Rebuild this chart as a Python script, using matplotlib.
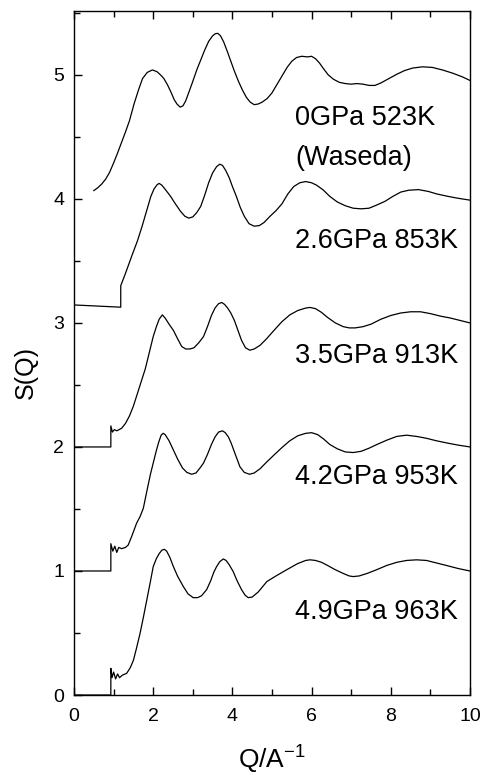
import matplotlib
matplotlib.use("Agg")
import matplotlib.pyplot as plt
from matplotlib.ticker import MultipleLocator

plt.rcParams["font.family"] = ["Liberation Sans", "DejaVu Sans"]
plt.rcParams["mathtext.fontset"] = "custom"
plt.rcParams["mathtext.rm"] = "Liberation Sans"
plt.rcParams["mathtext.it"] = "Liberation Sans:italic"
plt.rcParams["mathtext.bf"] = "Liberation Sans:bold"

# S(Q) curves (unshifted) and the vertical offsets used for stacking
labels = ["0GPa 523K\n(Waseda)", "2.6GPa 853K", "3.5GPa 913K", "4.2GPa 953K", "4.9GPa 963K"]
offsets = [4, 3, 2, 1, 0]

q_0gpa = [0.5, 0.6, 0.7, 0.8, 0.9, 1.0, 1.1, 1.2, 1.3, 1.4, 1.52, 1.63, 1.73, 1.85, 1.98,
          2.1, 2.2, 2.27, 2.36, 2.45, 2.53, 2.6, 2.68, 2.75, 2.82, 2.9, 2.98, 3.1, 3.2,
          3.3, 3.4, 3.5, 3.57, 3.63, 3.7, 3.78, 3.87, 3.96, 4.05, 4.15, 4.25, 4.35, 4.45,
          4.55, 4.65, 4.75, 4.88, 5.0, 5.12, 5.25, 5.38, 5.5, 5.62, 5.75, 5.9, 6.0, 6.1,
          6.2, 6.3, 6.42, 6.55, 6.7, 6.85, 7.0, 7.14, 7.3, 7.45, 7.6, 7.75, 7.95, 8.15,
          8.35, 8.55, 8.8, 9.05, 9.3, 9.55, 9.8, 10.0]
s_0gpa = [0.067, 0.09, 0.12, 0.16, 0.215, 0.29, 0.37, 0.455, 0.54, 0.63, 0.77, 0.88, 0.97, 1.02, 1.04,
          1.025, 0.995, 0.97, 0.92, 0.86, 0.80, 0.765, 0.74, 0.75, 0.79, 0.86, 0.93, 1.04, 1.12,
          1.20, 1.27, 1.315, 1.332, 1.335, 1.315, 1.265, 1.19, 1.11, 1.03, 0.95, 0.88, 0.82, 0.78,
          0.76, 0.765, 0.78, 0.81, 0.855, 0.92, 0.99, 1.06, 1.11, 1.14, 1.15, 1.145, 1.15, 1.13,
          1.095, 1.05, 1.0, 0.965, 0.94, 0.93, 0.925, 0.93, 0.925, 0.915, 0.915, 0.935, 0.97, 1.005,
          1.035, 1.055, 1.065, 1.06, 1.04, 1.015, 0.985, 0.955]

q_26gpa = [0, 1.18, 1.18, 1.3, 1.47, 1.6, 1.72, 1.83, 1.94, 2.02, 2.1, 2.15, 2.22, 2.32,
           2.44, 2.56, 2.69, 2.8, 2.9, 3.0, 3.1, 3.2, 3.3, 3.4, 3.5, 3.6, 3.68, 3.75,
           3.83, 3.92, 4.0, 4.1, 4.2, 4.3, 4.42, 4.55, 4.68, 4.8, 4.95, 5.1, 5.25, 5.4,
           5.55, 5.7, 5.85, 6.0, 6.13, 6.3, 6.46, 6.65, 6.85, 7.05, 7.25, 7.45, 7.64, 7.85,
           8.05, 8.25, 8.45, 8.7, 8.95, 9.16, 9.45, 9.7, 10.0]
s_26gpa = [0.145, 0.127, 0.30, 0.40, 0.55, 0.66, 0.78, 0.90, 1.02, 1.08, 1.115, 1.125, 1.11, 1.07,
           1.02, 0.96, 0.90, 0.86, 0.845, 0.855, 0.89, 0.94, 1.03, 1.13, 1.21, 1.26, 1.28, 1.27,
           1.23, 1.17, 1.10, 1.02, 0.93, 0.86, 0.80, 0.78, 0.785, 0.81, 0.86, 0.905, 0.96, 1.04,
           1.10, 1.13, 1.14, 1.13, 1.11, 1.07, 1.02, 0.975, 0.945, 0.925, 0.92, 0.925, 0.95, 0.98,
           1.02, 1.055, 1.07, 1.075, 1.06, 1.04, 1.02, 1.005, 0.99]

q_35gpa = [0, 0.93, 0.93, 0.97, 1.02, 1.08, 1.2, 1.3, 1.4, 1.5, 1.6, 1.7, 1.8, 1.9, 2.0,
           2.08, 2.15, 2.23, 2.3, 2.4, 2.51, 2.62, 2.72, 2.82, 2.93, 3.03, 3.15, 3.27, 3.37,
           3.47, 3.56, 3.65, 3.73, 3.8, 3.88, 3.96, 4.05, 4.14, 4.23, 4.33, 4.44, 4.55, 4.7,
           4.87, 5.05, 5.25, 5.45, 5.65, 5.85, 5.96, 6.1, 6.25, 6.4, 6.6, 6.8, 6.95, 7.1,
           7.3, 7.5, 7.75, 8.0, 8.25, 8.5, 8.75, 9.0, 9.25, 9.5, 9.75, 10.0]
s_35gpa = [0.0, 0.0, 0.17, 0.12, 0.14, 0.13, 0.15, 0.19, 0.25, 0.33, 0.43, 0.53, 0.63, 0.76, 0.89,
           0.97, 1.03, 1.065, 1.04, 0.99, 0.94, 0.87, 0.81, 0.79, 0.79, 0.80, 0.84, 0.89, 0.97,
           1.06, 1.12, 1.155, 1.165, 1.15, 1.12, 1.08, 1.02, 0.94, 0.86, 0.80, 0.78, 0.79, 0.82,
           0.875, 0.94, 1.01, 1.065, 1.10, 1.12, 1.125, 1.115, 1.085, 1.045, 1.0, 0.97, 0.96, 0.96,
           0.97, 0.99, 1.03, 1.06, 1.08, 1.09, 1.09, 1.075, 1.055, 1.04, 1.02, 1.0]

q_42gpa = [0, 0.93, 0.93, 0.98, 1.03, 1.08, 1.13, 1.2, 1.3, 1.37, 1.47, 1.58, 1.67, 1.75,
           1.85, 1.93, 2.0, 2.07, 2.14, 2.2, 2.25, 2.3, 2.4, 2.51, 2.62, 2.74, 2.85, 2.97,
           3.08, 3.18, 3.27, 3.37, 3.47, 3.56, 3.65, 3.75, 3.82, 3.9, 3.97, 4.05, 4.12, 4.19,
           4.3, 4.43, 4.55, 4.7, 4.87, 5.05, 5.25, 5.45, 5.65, 5.85, 6.0, 6.15, 6.3, 6.46,
           6.65, 6.85, 7.05, 7.25, 7.45, 7.65, 7.9, 8.15, 8.4, 8.65, 8.9, 9.15, 9.45, 9.7, 10.0]
s_42gpa = [0.0, 0.0, 0.22, 0.16, 0.2, 0.15, 0.19, 0.18, 0.19, 0.21, 0.29, 0.385, 0.44, 0.505,
           0.66, 0.78, 0.87, 0.96, 1.04, 1.095, 1.11, 1.10, 1.05, 0.975, 0.90, 0.83, 0.795, 0.78,
           0.79, 0.83, 0.87, 0.94, 1.02, 1.08, 1.12, 1.13, 1.115, 1.08, 1.03, 0.96, 0.90, 0.84,
           0.795, 0.78, 0.79, 0.825, 0.88, 0.935, 0.995, 1.05, 1.09, 1.11, 1.115, 1.10, 1.065, 1.02,
           0.985, 0.96, 0.955, 0.965, 0.99, 1.02, 1.055, 1.085, 1.095, 1.085, 1.07, 1.05, 1.03, 1.015, 1.0]

q_49gpa = [0, 0.93, 0.93, 0.96, 1.0, 1.05, 1.1, 1.15, 1.22, 1.33, 1.42, 1.5, 1.58, 1.67,
           1.76, 1.84, 1.92, 2.0, 2.08, 2.15, 2.22, 2.28, 2.34, 2.42, 2.51, 2.62, 2.76, 2.88,
           3.01, 3.12, 3.22, 3.35, 3.45, 3.53, 3.6, 3.68, 3.77, 3.84, 3.92, 4.02, 4.12, 4.23,
           4.32, 4.4, 4.5, 4.65, 4.87, 5.1, 5.37, 5.65, 5.85, 5.96, 6.1, 6.25, 6.4, 6.6,
           6.8, 6.95, 7.05, 7.2, 7.4, 7.64, 7.9, 8.15, 8.4, 8.65, 8.9, 9.15, 9.4, 9.7, 10.0]
s_49gpa = [0.0, 0.0, 0.215, 0.14, 0.185, 0.13, 0.17, 0.14, 0.16, 0.175, 0.22, 0.28, 0.38, 0.50,
           0.64, 0.77, 0.90, 1.035, 1.10, 1.14, 1.168, 1.175, 1.16, 1.11, 1.035, 0.955, 0.875, 0.815,
           0.785, 0.785, 0.80, 0.85, 0.92, 0.99, 1.035, 1.075, 1.097, 1.085, 1.05, 0.995, 0.92, 0.85,
           0.805, 0.785, 0.79, 0.83, 0.915, 0.96, 1.01, 1.06, 1.085, 1.09, 1.085, 1.07, 1.045, 1.01,
           0.98, 0.96, 0.955, 0.96, 0.98, 1.01, 1.045, 1.07, 1.085, 1.09, 1.085, 1.065, 1.045, 1.02, 1.0]

curves = [(q_0gpa, s_0gpa), (q_26gpa, s_26gpa), (q_35gpa, s_35gpa),
          (q_42gpa, s_42gpa), (q_49gpa, s_49gpa)]
label_y = [4.49, 3.66, 2.73, 1.76, 0.67]

fig = plt.figure(figsize=(4.85, 7.75), dpi=100)
ax = fig.add_axes([0.1526, 0.1032, 0.8165, 0.8826])

for (q, s), off, lab, ly in zip(curves, offsets, labels, label_y):
    ax.plot(q, [v + off for v in s], color="black", lw=0.9)
    ax.text(5.58, ly, lab, fontsize=19.5, ha="left", va="center",
            linespacing=1.7, color="black")

ax.set_xlim(0, 10)
ax.set_ylim(0, 5.515)
ax.xaxis.set_major_locator(MultipleLocator(2))
ax.xaxis.set_minor_locator(MultipleLocator(1))
ax.yaxis.set_major_locator(MultipleLocator(1))
ax.yaxis.set_minor_locator(MultipleLocator(0.5))
ax.tick_params(axis="x", which="both", direction="in", top=True, bottom=True)
ax.tick_params(axis="y", which="both", direction="in", left=True, right=False)
ax.tick_params(which="major", length=6, width=1, labelsize=14)
ax.tick_params(which="minor", length=4, width=1)
ax.tick_params(axis="x", which="major", pad=9)
ax.tick_params(axis="y", which="major", pad=7)
for sp in ax.spines.values():
    sp.set_linewidth(1.0)

ax.set_xlabel("Q/A$^{-1}$", fontsize=19)
ax.xaxis.set_label_coords(0.5, -0.071)
ax.set_ylabel("S(Q)", fontsize=18)
ax.yaxis.set_label_coords(-0.092, 0.472)

fig.savefig("out.png", dpi=100)
